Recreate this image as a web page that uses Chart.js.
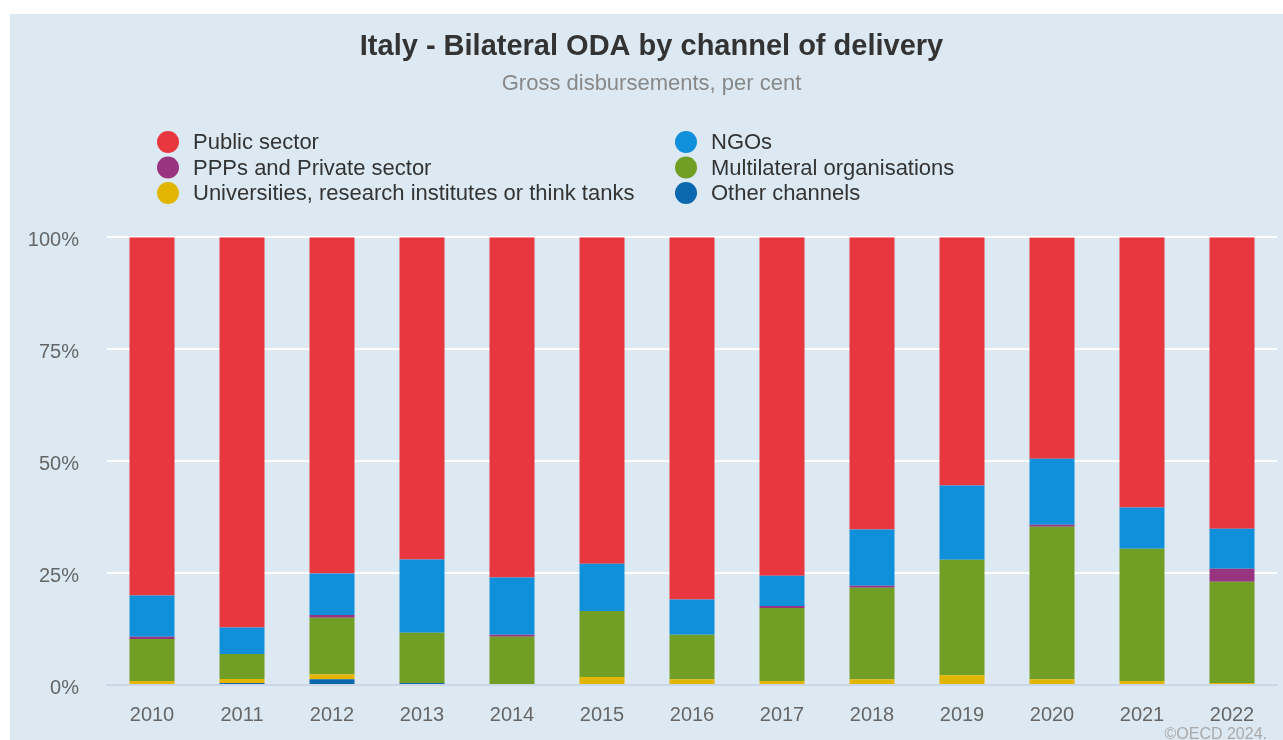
<!DOCTYPE html>
<html>
<head>
<meta charset="utf-8">
<script src="https://cdn.jsdelivr.net/npm/chart.js@4/dist/chart.umd.min.js"></script>
<style>
  html, body { margin: 0; padding: 0; background: #ffffff; }
  #wrap { position: absolute; left: 0; top: 0; width: 1283px; height: 740px; }
</style>
</head>
<body>
<div id="wrap"><canvas id="chart" width="1283" height="740"></canvas></div>
<script>
// Years on the category axis
const years = ['2010','2011','2012','2013','2014','2015','2016','2017','2018','2019','2020','2021','2022'];

// Share of gross bilateral ODA by channel (per cent), stacked bottom to top
const otherChannels = [0, 0.45, 1.3, 0.45, 0, 0, 0, 0, 0, 0, 0, 0, 0];
const universities  = [0.9, 0.9, 1.1, 0, 0, 1.8, 1.3, 0.9, 1.3, 2.2, 1.3, 0.9, 0.45];
const multilateral  = [9.4, 5.6, 12.6, 11.2, 10.75, 14.75, 9.9, 16.3, 20.4, 25.75, 34.05, 29.5, 22.6];
const privateSector = [0.45, 0, 0.65, 0, 0.45, 0, 0, 0.45, 0.45, 0, 0.45, 0, 2.9];
const ngos          = [9.25, 5.9, 9.25, 16.4, 12.8, 10.55, 7.9, 6.75, 12.55, 16.6, 14.75, 9.25, 8.95];
const publicSector  = [80.0, 87.15, 75.1, 71.95, 76.0, 72.9, 80.9, 75.6, 65.3, 55.45, 49.4, 60.35, 65.1];

// Y axis tick values
const yTicks = [0, 25, 50, 75, 100];

const COLORS = {
  publicSector: '#e8373f',
  ngos: '#108fda',
  privateSector: '#993481',
  multilateral: '#719e25',
  universities: '#e2b500',
  other: '#0b67ae'
};

const datasets = [
  { label: 'Other channels', data: otherChannels, backgroundColor: COLORS.other },
  { label: 'Universities, research institutes or think tanks', data: universities, backgroundColor: COLORS.universities },
  { label: 'Multilateral organisations', data: multilateral, backgroundColor: COLORS.multilateral },
  { label: 'PPPs and Private sector', data: privateSector, backgroundColor: COLORS.privateSector },
  { label: 'NGOs', data: ngos, backgroundColor: COLORS.ngos },
  { label: 'Public sector', data: publicSector, backgroundColor: COLORS.publicSector }
];

// Legend layout: two columns, three rows (dataset indices)
const legendColumns = [[5, 3, 1], [4, 2, 0]];

const FONT = "'Liberation Sans', Arial, Helvetica, sans-serif";

const panelBackground = {
  id: 'panelBackground',
  beforeDraw(chart) {
    const ctx = chart.ctx;
    ctx.save();
    ctx.fillStyle = '#dde9f2';
    ctx.fillRect(10, 14, chart.width - 10, chart.height - 14);
    ctx.restore();
  }
};

const columnLegend = {
  id: 'columnLegend',
  afterDraw(chart) {
    const ctx = chart.ctx;
    const colX = [168, 686];
    const rowY = [142, 167.5, 193];
    ctx.save();
    ctx.font = '22px ' + FONT;
    ctx.textBaseline = 'middle';
    ctx.textAlign = 'left';
    legendColumns.forEach((col, ci) => {
      col.forEach((idx, ri) => {
        const ds = chart.data.datasets[idx];
        ctx.fillStyle = ds.backgroundColor;
        ctx.beginPath();
        ctx.arc(colX[ci], rowY[ri], 11, 0, Math.PI * 2);
        ctx.fill();
        ctx.fillStyle = '#333333';
        ctx.fillText(ds.label, colX[ci] + 25, rowY[ri] + 1);
      });
    });
    // credit line
    ctx.font = '16px ' + FONT;
    ctx.fillStyle = '#a9a9a9';
    ctx.textAlign = 'right';
    ctx.textBaseline = 'alphabetic';
    ctx.fillText('\u00A9OECD 2024.', 1267, 739);
    ctx.restore();
  }
};

new Chart(document.getElementById('chart'), {
  type: 'bar',
  data: { labels: years, datasets },
  options: {
    responsive: false,
    animation: false,
    events: [],
    datasets: { bar: { barPercentage: 0.5, categoryPercentage: 1.0, borderWidth: 0 } },
    layout: { padding: { left: 26, right: 6, top: 0, bottom: 0 } },
    plugins: {
      legend: { display: false },
      tooltip: { enabled: false },
      title: {
        display: true,
        text: 'Italy - Bilateral ODA by channel of delivery',
        color: '#333333',
        font: { family: FONT, size: 29, weight: 'bold', lineHeight: 1.2 },
        padding: { top: 30, bottom: 0 }
      },
      subtitle: {
        display: true,
        text: 'Gross disbursements, per cent',
        color: '#888888',
        font: { family: FONT, size: 22, lineHeight: 1.2 },
        padding: { top: 6, bottom: 140 }
      }
    },
    scales: {
      x: {
        stacked: true,
        grid: { display: false, drawTicks: false },
        border: { display: true, color: '#ccd6e8', width: 2 },
        ticks: { color: '#666666', font: { family: FONT, size: 20 }, padding: 18 },
        afterFit(axis) { axis.height = 55; }
      },
      y: {
        stacked: true,
        min: 0,
        max: 100,
        afterBuildTicks(axis) { axis.ticks = yTicks.map(v => ({ value: v })); },
        grid: { color: '#ffffff', lineWidth: 2, drawTicks: false },
        border: { display: false },
        ticks: {
          color: '#666666',
          font: { family: FONT, size: 20 },
          padding: 28,
          labelOffset: 3,
          callback: v => v + '%'
        },
        afterFit(axis) { axis.width = 81; }
      }
    }
  },
  plugins: [panelBackground, columnLegend]
});
</script>
</body>
</html>
